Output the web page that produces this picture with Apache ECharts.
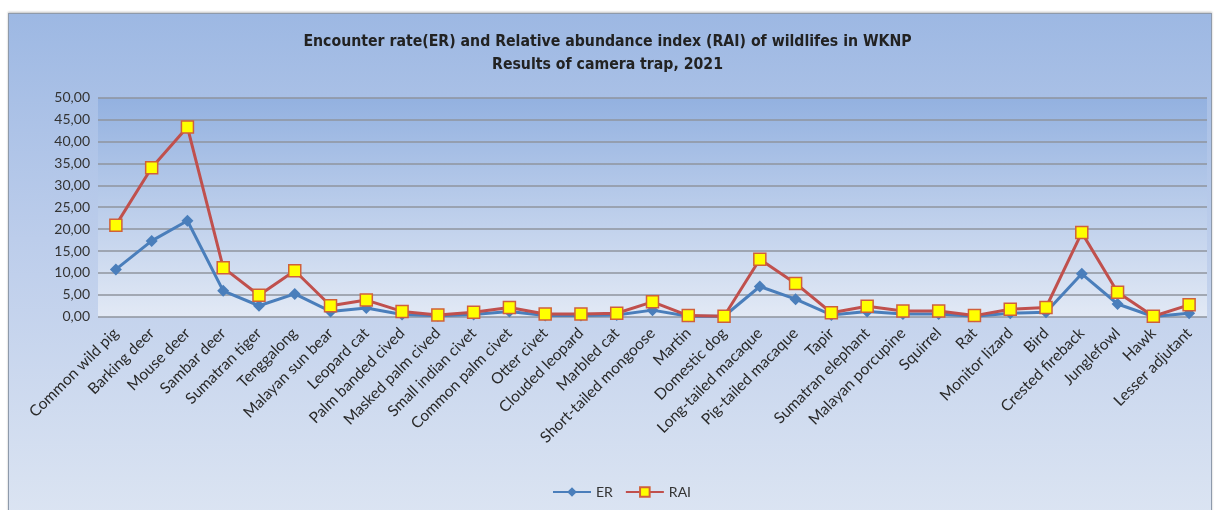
<!DOCTYPE html>
<html>
<head>
<meta charset="utf-8">
<script src="https://cdn.jsdelivr.net/npm/echarts@6/dist/echarts.min.js"></script>
<style>
  html, body { margin: 0; padding: 0; background: #ffffff; }
  #wrap { position: relative; width: 1215px; height: 510px; overflow: hidden; }
  #frame {
    position: absolute; left: 8px; top: 13px; width: 1202px; height: 500px;
    border: 1px solid #8e9aab;
    box-shadow: 0 -1px 2px rgba(0,0,0,0.25);
    background: linear-gradient(to bottom, #9db8e3 0%, #bccdeb 45%, #dbe4f2 100%);
  }
  #chart { position: absolute; left: 0; top: 0; width: 1215px; height: 510px; }
</style>
</head>
<body>
<div id="wrap">
  <div id="frame"></div>
  <div id="chart"></div>
</div>
<script>
// Species recorded by the camera traps
const categories = [
  'Common wild pig', 'Barking deer', 'Mouse deer', 'Sambar deer', 'Sumatran tiger',
  'Tenggalong', 'Malayan sun bear', 'Leopard cat', 'Palm banded cived', 'Masked palm cived',
  'Small indian civet', 'Common palm civet', 'Otter civet', 'Clouded leopard', 'Marbled cat',
  'Short-tailed mongoose', 'Martin', 'Domestic dog', 'Long-tailed macaque', 'Pig-tailed macaque',
  'Tapir', 'Sumatran elephant', 'Malayan porcupine', 'Squirrel', 'Rat',
  'Monitor lizard', 'Bird', 'Crested fireback', 'Junglefowl', 'Hawk', 'Lesser adjutant'
];

// Encounter rate
const erValues = [
  10.8, 17.3, 21.9, 5.9, 2.5,
  5.2, 1.2, 2.0, 0.5, 0.2,
  0.5, 1.2, 0.3, 0.3, 0.4,
  1.5, 0.1, 0.1, 6.9, 4.0,
  0.4, 1.2, 0.6, 0.6, 0.1,
  0.8, 1.0, 9.8, 2.9, 0.05, 0.8
];

// Relative abundance index
const raiValues = [
  20.9, 34.0, 43.3, 11.2, 4.9,
  10.5, 2.5, 3.8, 1.2, 0.4,
  1.0, 2.1, 0.6, 0.6, 0.8,
  3.4, 0.25, 0.1, 13.1, 7.6,
  0.9, 2.4, 1.3, 1.3, 0.25,
  1.7, 2.1, 19.2, 5.6, 0.1, 2.7
];

// Value axis range
const yMin = 0;
const yMax = 50;
const yStep = 5;

const chart = echarts.init(document.getElementById('chart'), null, { renderer: 'canvas' });
const baseFont = 'Lato, "Open Sans", "Liberation Sans", sans-serif';
const titleFont = '"DejaVu Sans Condensed", Lato, sans-serif';

chart.setOption({
  backgroundColor: 'transparent',
  animation: false,
  title: {
    text: 'Encounter rate(ER) and Relative abundance index (RAI) of wildlifes in WKNP\nResults of camera trap, 2021',
    left: 'center',
    top: 25,
    textStyle: {
      fontFamily: titleFont,
      fontSize: 15.7,
      fontWeight: 'bold',
      color: '#222222',
      lineHeight: 23
    }
  },
  legend: {
    top: 480,
    left: 547,
    itemWidth: 38,
    itemHeight: 12,
    itemGap: 12,
    textStyle: { fontFamily: baseFont, fontSize: 14, color: '#333333' },
    data: ['ER', 'RAI']
  },
  grid: {
    left: 98,
    right: 8,
    top: 97.7,
    bottom: 193.3,
    containLabel: false,
    show: true,
    borderWidth: 0,
    backgroundColor: {
      type: 'linear', x: 0, y: 0, x2: 0, y2: 1,
      colorStops: [
        { offset: 0, color: '#93b1e0' },
        { offset: 1, color: '#e2e9f5' }
      ]
    }
  },
  xAxis: {
    type: 'category',
    data: categories,
    boundaryGap: true,
    axisLine: { show: false },
    axisTick: { show: false },
    axisLabel: {
      interval: 0,
      rotate: 45,
      margin: 14,
      fontFamily: baseFont,
      fontSize: 15.5,
      color: '#2a2a2a'
    }
  },
  yAxis: {
    type: 'value',
    min: yMin,
    max: yMax,
    interval: yStep,
    axisLine: { show: false },
    axisTick: { show: false },
    axisLabel: {
      margin: 8,
      fontFamily: baseFont,
      fontSize: 14,
      color: '#333333',
      formatter: v => v.toFixed(2).replace('.', ',')
    },
    splitLine: { lineStyle: { color: '#8f959e', width: 1.5 } }
  },
  series: [
    {
      name: 'ER',
      type: 'line',
      data: erValues,
      symbol: 'diamond',
      symbolSize: 12,
      lineStyle: { color: '#4a7ebb', width: 3 },
      itemStyle: { color: '#4a7ebb', borderColor: '#4a7ebb', borderWidth: 0 },
      z: 2
    },
    {
      name: 'RAI',
      type: 'line',
      data: raiValues,
      symbol: 'rect',
      symbolSize: 12,
      lineStyle: { color: '#c0504d', width: 3 },
      itemStyle: { color: '#ffff00', borderColor: '#d0603a', borderWidth: 1.5 },
      z: 3
    }
  ]
});
</script>
</body>
</html>
